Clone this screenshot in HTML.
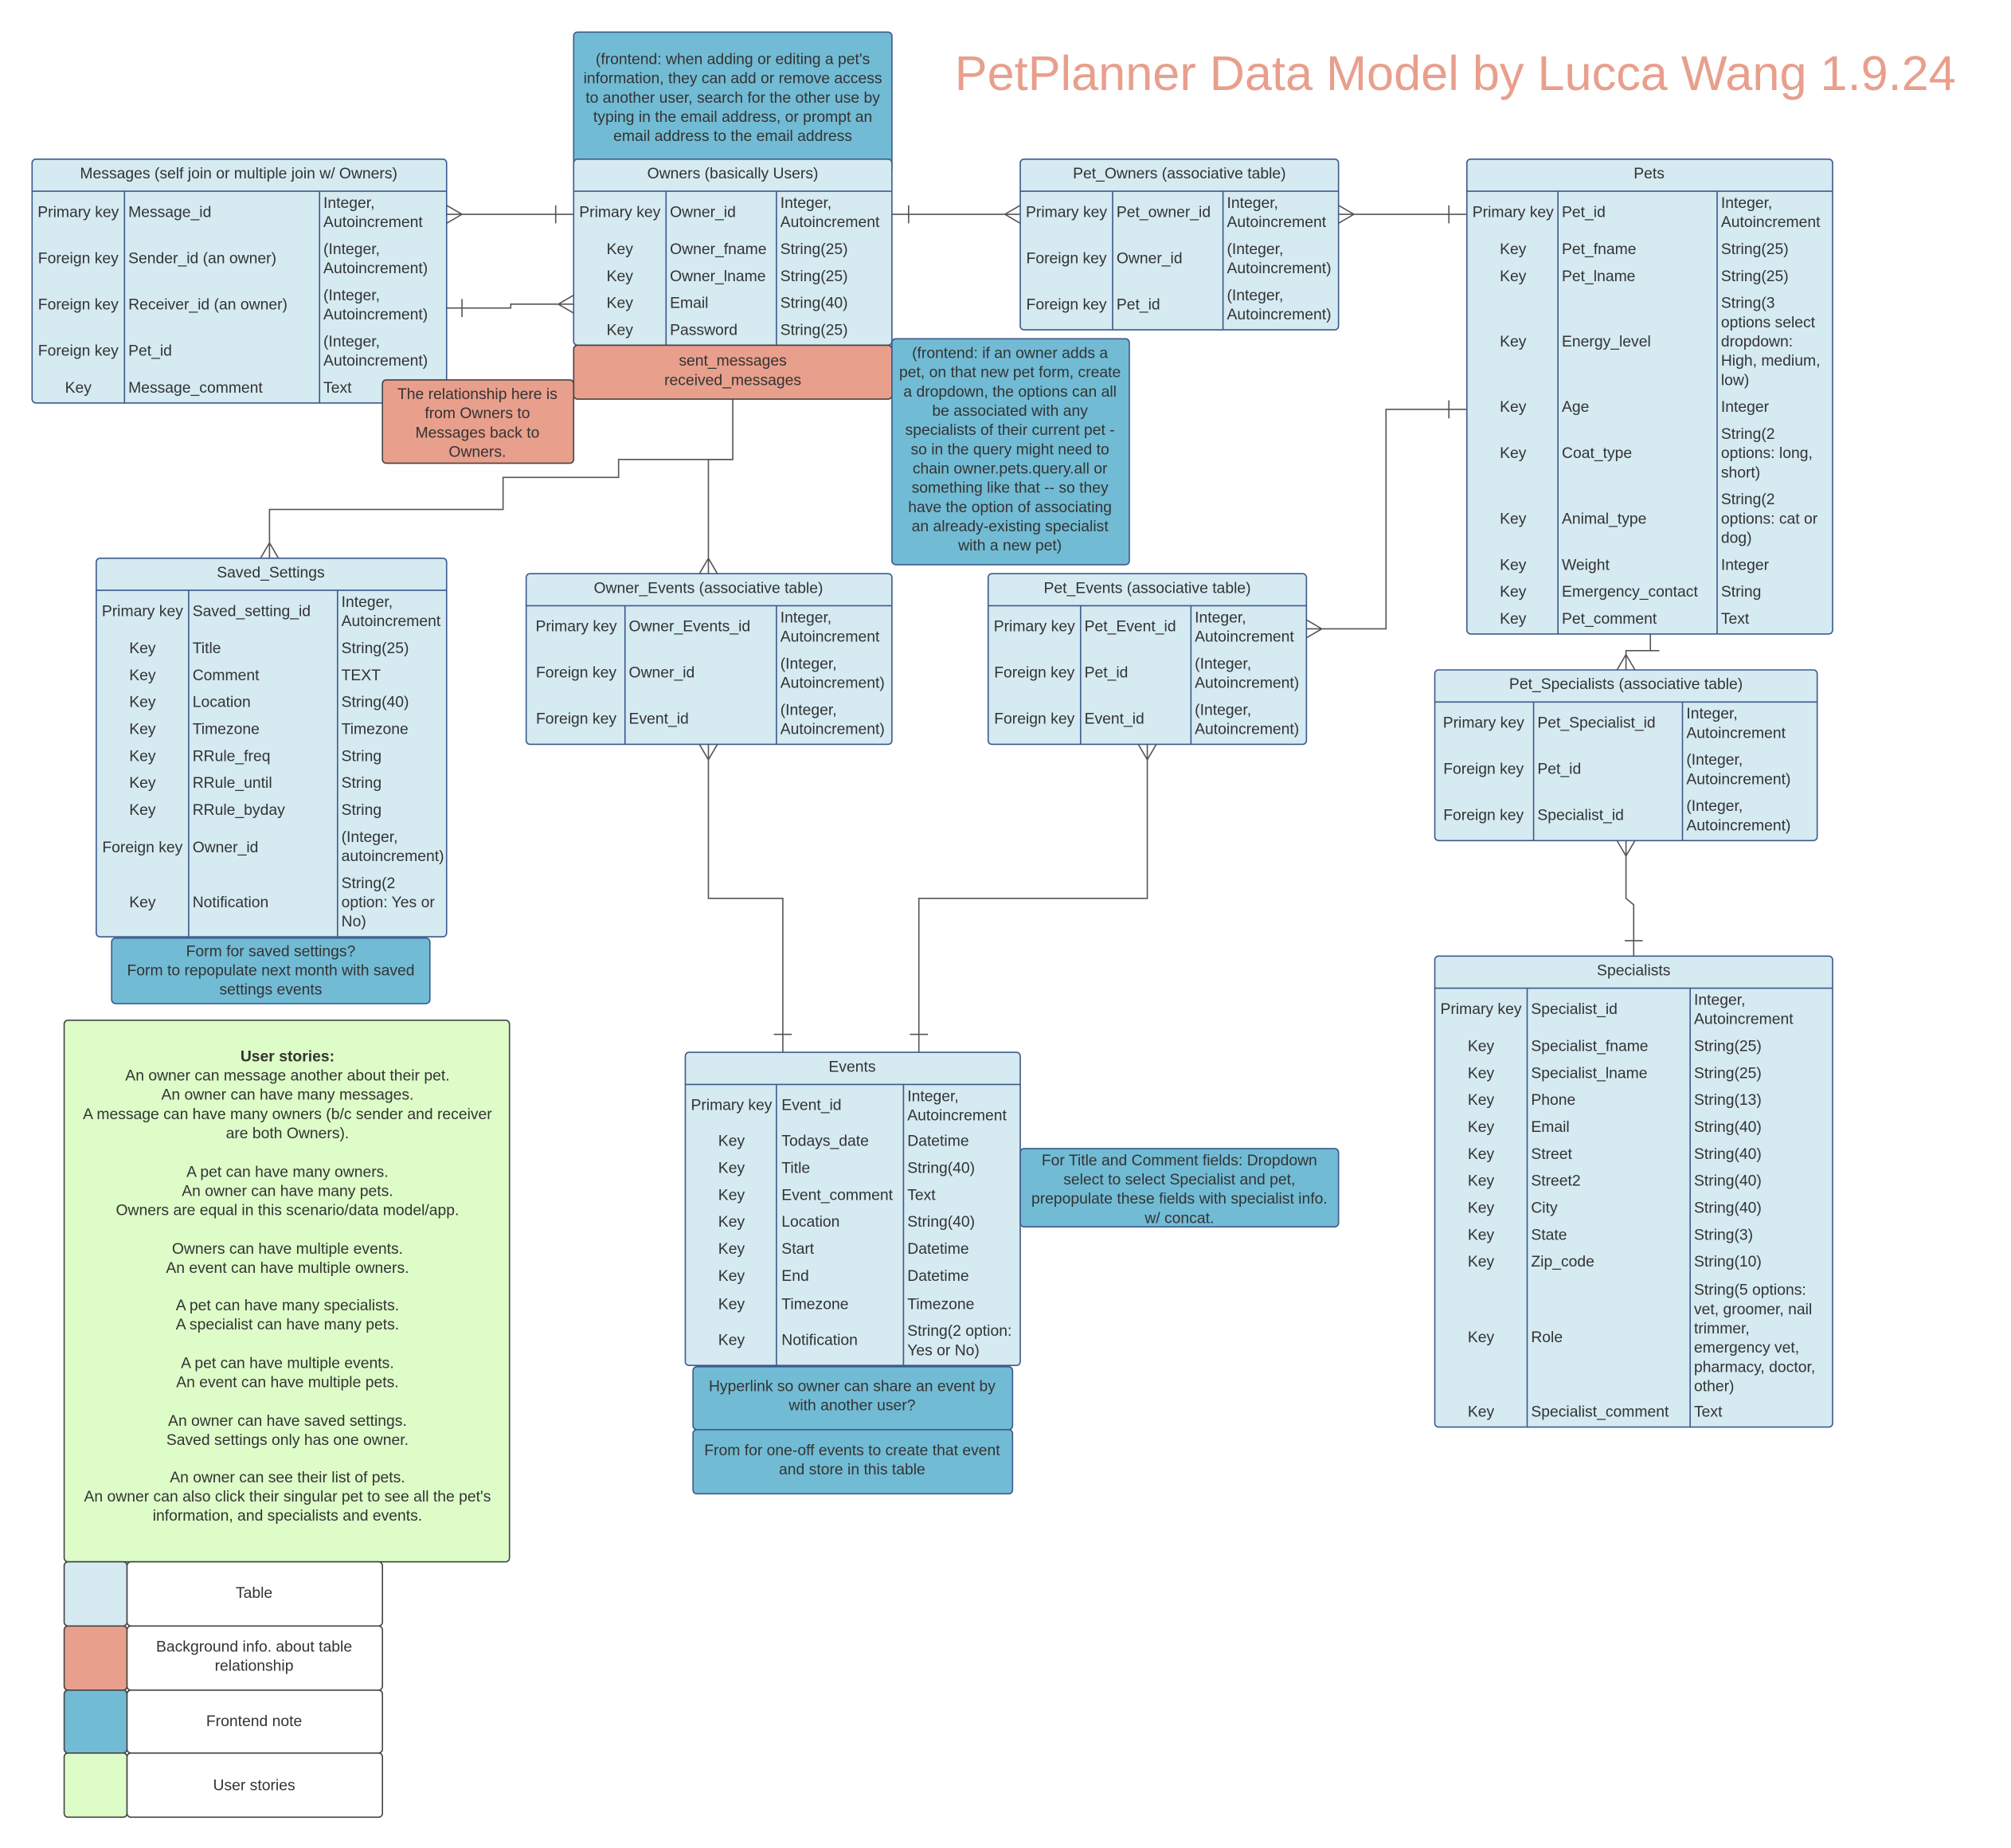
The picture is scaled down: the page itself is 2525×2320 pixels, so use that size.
<!DOCTYPE html>
<html><head><meta charset="utf-8"><style>
html,body{margin:0;padding:0;background:#fff;}
svg{display:block;}
text{font-family:"Liberation Sans",Arial,sans-serif;font-size:12px;fill:#333;}
.c{text-anchor:middle;}
.t{fill:#d5eaf1;stroke:#3d5a8c;stroke-width:1;}
.g{stroke:#3d5a8c;stroke-width:1;}
.r{fill:#e89f8c;stroke:#444;stroke-width:1;}
.f{fill:#72bbd4;stroke:#3d5a8c;stroke-width:1;}
.l{fill:none;stroke:#555;stroke-width:1;}
</style></head><body>
<svg width="2525" height="2320" viewBox="0 0 1567 1440" preserveAspectRatio="none" xmlns="http://www.w3.org/2000/svg">
<rect width="1567" height="1440" fill="#fff"/>
<text x="1134" y="70" class="c" style="font-size:38px;fill:#e89f8c">PetPlanner Data Model by Lucca Wang 1.9.24</text>

<!-- connectors -->
<g class="l">
<path d="M348 167H447M348 160L360 167L348 174M433 160V174"/>
<path d="M348 240H398V237H447M360 233V247M447 230L435 237L447 244"/>
<path d="M695 167H795M708 160V174M795 160L783 167L795 174"/>
<path d="M1043 167H1143M1043 160L1055 167L1043 174M1129 160V174"/>
<path d="M571 311V358H482V372H392V397H210V435M203 435L210 423L217 435"/>
<path d="M571 358H552V447M545 447L552 435L559 447"/>
<path d="M1018 490H1080V319H1143M1018 483L1030 490L1018 497M1129 312V326"/>
<path d="M1286 494V507H1267V522M1260 522L1267 510L1274 522M1279 507H1293"/>
<path d="M1267 655V700L1273 705V745M1260 655L1267 667L1274 655M1266 733H1280"/>
<path d="M552 580V700H610V820M545 580L552 592L559 580M603 806H617"/>
<path d="M894 580V700H716V820M887 580L894 592L901 580M709 806H723"/>
</g>

<!-- Top frontend note -->
<rect class="f" x="447" y="25" width="248" height="110" rx="3"/>
<text class="c" x="571" y="50">(frontend: when adding or editing a pet's</text>
<text class="c" x="571" y="65">information, they can add or remove access</text>
<text class="c" x="571" y="80">to another user, search for the other use by</text>
<text class="c" x="571" y="95">typing in the email address, or prompt an</text>
<text class="c" x="571" y="110">email address to the email address</text>

<!-- Messages -->
<rect class="t" x="25" y="124" width="323" height="190" rx="3"/>
<path class="g" d="M25 149H348M97 149V314M249 149V314"/>
<text class="c" x="186" y="139">Messages (self join or multiple join w/ Owners)</text>
<text class="c" x="61" y="169">Primary key</text><text x="100" y="169">Message_id</text><text x="252" y="162">Integer,</text><text x="252" y="177">Autoincrement</text>
<text class="c" x="61" y="205">Foreign key</text><text x="100" y="205">Sender_id (an owner)</text><text x="252" y="198">(Integer,</text><text x="252" y="213">Autoincrement)</text>
<text class="c" x="61" y="241">Foreign key</text><text x="100" y="241">Receiver_id (an owner)</text><text x="252" y="234">(Integer,</text><text x="252" y="249">Autoincrement)</text>
<text class="c" x="61" y="277">Foreign key</text><text x="100" y="277">Pet_id</text><text x="252" y="270">(Integer,</text><text x="252" y="285">Autoincrement)</text>
<text class="c" x="61" y="306">Key</text><text x="100" y="306">Message_comment</text><text x="252" y="306">Text</text>

<!-- Owners -->
<rect class="t" x="447" y="124" width="248" height="145" rx="3"/>
<path class="g" d="M447 149H695M519 149V269M605 149V269"/>
<text class="c" x="571" y="139">Owners (basically Users)</text>
<text class="c" x="483" y="169">Primary key</text><text x="522" y="169">Owner_id</text><text x="608" y="162">Integer,</text><text x="608" y="177">Autoincrement</text>
<text class="c" x="483" y="198">Key</text><text x="522" y="198">Owner_fname</text><text x="608" y="198">String(25)</text>
<text class="c" x="483" y="219">Key</text><text x="522" y="219">Owner_lname</text><text x="608" y="219">String(25)</text>
<text class="c" x="483" y="240">Key</text><text x="522" y="240">Email</text><text x="608" y="240">String(40)</text>
<text class="c" x="483" y="261">Key</text><text x="522" y="261">Password</text><text x="608" y="261">String(25)</text>
<rect class="r" x="447" y="269" width="248" height="42" rx="3"/>
<text class="c" x="571" y="285">sent_messages</text>
<text class="c" x="571" y="300">received_messages</text>

<!-- relationship note -->
<rect class="r" x="298" y="296" width="149" height="65" rx="3"/>
<text class="c" x="372" y="311">The relationship here is</text>
<text class="c" x="372" y="326">from Owners to</text>
<text class="c" x="372" y="341">Messages back to</text>
<text class="c" x="372" y="356">Owners.</text>

<!-- Pet_Owners -->
<rect class="t" x="795" y="124" width="248" height="133" rx="3"/>
<path class="g" d="M795 149H1043M867 149V257M953 149V257"/>
<text class="c" x="919" y="139">Pet_Owners (associative table)</text>
<text class="c" x="831" y="169">Primary key</text><text x="870" y="169">Pet_owner_id</text><text x="956" y="162">Integer,</text><text x="956" y="177">Autoincrement</text>
<text class="c" x="831" y="205">Foreign key</text><text x="870" y="205">Owner_id</text><text x="956" y="198">(Integer,</text><text x="956" y="213">Autoincrement)</text>
<text class="c" x="831" y="241">Foreign key</text><text x="870" y="241">Pet_id</text><text x="956" y="234">(Integer,</text><text x="956" y="249">Autoincrement)</text>

<!-- frontend note 2 -->
<rect class="f" x="695" y="264" width="185" height="176" rx="3"/>
<text class="c" x="787" y="279">(frontend: if an owner adds a</text>
<text class="c" x="787" y="294">pet, on that new pet form, create</text>
<text class="c" x="787" y="309">a dropdown, the options can all</text>
<text class="c" x="787" y="324">be associated with any</text>
<text class="c" x="787" y="339">specialists of their current pet -</text>
<text class="c" x="787" y="354">so in the query might need to</text>
<text class="c" x="787" y="369">chain owner.pets.query.all or</text>
<text class="c" x="787" y="384">something like that -- so they</text>
<text class="c" x="787" y="399">have the option of associating</text>
<text class="c" x="787" y="414">an already-existing specialist</text>
<text class="c" x="787" y="429">with a new pet)</text>

<!-- Pets -->
<rect class="t" x="1143" y="124" width="285" height="370" rx="3"/>
<path class="g" d="M1143 149H1428M1214 149V494M1338 149V494"/>
<text class="c" x="1285" y="139">Pets</text>
<text class="c" x="1179" y="169">Primary key</text><text x="1217" y="169">Pet_id</text><text x="1341" y="162">Integer,</text><text x="1341" y="177">Autoincrement</text>
<text class="c" x="1179" y="198">Key</text><text x="1217" y="198">Pet_fname</text><text x="1341" y="198">String(25)</text>
<text class="c" x="1179" y="219">Key</text><text x="1217" y="219">Pet_lname</text><text x="1341" y="219">String(25)</text>
<text class="c" x="1179" y="270">Key</text><text x="1217" y="270">Energy_level</text><text x="1341" y="240">String(3</text><text x="1341" y="255">options select</text><text x="1341" y="270">dropdown:</text><text x="1341" y="285">High, medium,</text><text x="1341" y="300">low)</text>
<text class="c" x="1179" y="321">Key</text><text x="1217" y="321">Age</text><text x="1341" y="321">Integer</text>
<text class="c" x="1179" y="357">Key</text><text x="1217" y="357">Coat_type</text><text x="1341" y="342">String(2</text><text x="1341" y="357">options: long,</text><text x="1341" y="372">short)</text>
<text class="c" x="1179" y="408">Key</text><text x="1217" y="408">Animal_type</text><text x="1341" y="393">String(2</text><text x="1341" y="408">options: cat or</text><text x="1341" y="423">dog)</text>
<text class="c" x="1179" y="444">Key</text><text x="1217" y="444">Weight</text><text x="1341" y="444">Integer</text>
<text class="c" x="1179" y="465">Key</text><text x="1217" y="465">Emergency_contact</text><text x="1341" y="465">String</text>
<text class="c" x="1179" y="486">Key</text><text x="1217" y="486">Pet_comment</text><text x="1341" y="486">Text</text>

<!-- Saved_Settings -->
<rect class="t" x="75" y="435" width="273" height="295" rx="3"/>
<path class="g" d="M75 460H348M147 460V730M263 460V730"/>
<text class="c" x="211" y="450">Saved_Settings</text>
<text class="c" x="111" y="480">Primary key</text><text x="150" y="480">Saved_setting_id</text><text x="266" y="473">Integer,</text><text x="266" y="488">Autoincrement</text>
<text class="c" x="111" y="509">Key</text><text x="150" y="509">Title</text><text x="266" y="509">String(25)</text>
<text class="c" x="111" y="530">Key</text><text x="150" y="530">Comment</text><text x="266" y="530">TEXT</text>
<text class="c" x="111" y="551">Key</text><text x="150" y="551">Location</text><text x="266" y="551">String(40)</text>
<text class="c" x="111" y="572">Key</text><text x="150" y="572">Timezone</text><text x="266" y="572">Timezone</text>
<text class="c" x="111" y="593">Key</text><text x="150" y="593">RRule_freq</text><text x="266" y="593">String</text>
<text class="c" x="111" y="614">Key</text><text x="150" y="614">RRule_until</text><text x="266" y="614">String</text>
<text class="c" x="111" y="635">Key</text><text x="150" y="635">RRule_byday</text><text x="266" y="635">String</text>
<text class="c" x="111" y="664">Foreign key</text><text x="150" y="664">Owner_id</text><text x="266" y="656">(Integer,</text><text x="266" y="671">autoincrement)</text>
<text class="c" x="111" y="707">Key</text><text x="150" y="707">Notification</text><text x="266" y="692">String(2</text><text x="266" y="707">option: Yes or</text><text x="266" y="722">No)</text>
<rect class="f" x="87" y="731" width="248" height="51" rx="3"/>
<text class="c" x="211" y="745">Form for saved settings?</text>
<text class="c" x="211" y="760">Form to repopulate next month with saved</text>
<text class="c" x="211" y="775">settings events</text>

<!-- Owner_Events -->
<rect class="t" x="410" y="447" width="285" height="133" rx="3"/>
<path class="g" d="M410 472H695M487 472V580M605 472V580"/>
<text class="c" x="552" y="462">Owner_Events (associative table)</text>
<text class="c" x="449" y="492">Primary key</text><text x="490" y="492">Owner_Events_id</text><text x="608" y="485">Integer,</text><text x="608" y="500">Autoincrement</text>
<text class="c" x="449" y="528">Foreign key</text><text x="490" y="528">Owner_id</text><text x="608" y="521">(Integer,</text><text x="608" y="536">Autoincrement)</text>
<text class="c" x="449" y="564">Foreign key</text><text x="490" y="564">Event_id</text><text x="608" y="557">(Integer,</text><text x="608" y="572">Autoincrement)</text>

<!-- Pet_Events -->
<rect class="t" x="770" y="447" width="248" height="133" rx="3"/>
<path class="g" d="M770 472H1018M842 472V580M928 472V580"/>
<text class="c" x="894" y="462">Pet_Events (associative table)</text>
<text class="c" x="806" y="492">Primary key</text><text x="845" y="492">Pet_Event_id</text><text x="931" y="485">Integer,</text><text x="931" y="500">Autoincrement</text>
<text class="c" x="806" y="528">Foreign key</text><text x="845" y="528">Pet_id</text><text x="931" y="521">(Integer,</text><text x="931" y="536">Autoincrement)</text>
<text class="c" x="806" y="564">Foreign key</text><text x="845" y="564">Event_id</text><text x="931" y="557">(Integer,</text><text x="931" y="572">Autoincrement)</text>

<!-- Pet_Specialists -->
<rect class="t" x="1118" y="522" width="298" height="133" rx="3"/>
<path class="g" d="M1118 547H1416M1195 547V655M1311 547V655"/>
<text class="c" x="1267" y="537">Pet_Specialists (associative table)</text>
<text class="c" x="1156" y="567">Primary key</text><text x="1198" y="567">Pet_Specialist_id</text><text x="1314" y="560">Integer,</text><text x="1314" y="575">Autoincrement</text>
<text class="c" x="1156" y="603">Foreign key</text><text x="1198" y="603">Pet_id</text><text x="1314" y="596">(Integer,</text><text x="1314" y="611">Autoincrement)</text>
<text class="c" x="1156" y="639">Foreign key</text><text x="1198" y="639">Specialist_id</text><text x="1314" y="632">(Integer,</text><text x="1314" y="647">Autoincrement)</text>

<!-- Specialists -->
<rect class="t" x="1118" y="745" width="310" height="367" rx="3"/>
<path class="g" d="M1118 770H1428M1190 770V1112M1317 770V1112"/>
<text class="c" x="1273" y="760">Specialists</text>
<text class="c" x="1154" y="790">Primary key</text><text x="1193" y="790">Specialist_id</text><text x="1320" y="783">Integer,</text><text x="1320" y="798">Autoincrement</text>
<text class="c" x="1154" y="819">Key</text><text x="1193" y="819">Specialist_fname</text><text x="1320" y="819">String(25)</text>
<text class="c" x="1154" y="840">Key</text><text x="1193" y="840">Specialist_lname</text><text x="1320" y="840">String(25)</text>
<text class="c" x="1154" y="861">Key</text><text x="1193" y="861">Phone</text><text x="1320" y="861">String(13)</text>
<text class="c" x="1154" y="882">Key</text><text x="1193" y="882">Email</text><text x="1320" y="882">String(40)</text>
<text class="c" x="1154" y="903">Key</text><text x="1193" y="903">Street</text><text x="1320" y="903">String(40)</text>
<text class="c" x="1154" y="924">Key</text><text x="1193" y="924">Street2</text><text x="1320" y="924">String(40)</text>
<text class="c" x="1154" y="945">Key</text><text x="1193" y="945">City</text><text x="1320" y="945">String(40)</text>
<text class="c" x="1154" y="966">Key</text><text x="1193" y="966">State</text><text x="1320" y="966">String(3)</text>
<text class="c" x="1154" y="987">Key</text><text x="1193" y="987">Zip_code</text><text x="1320" y="987">String(10)</text>
<text class="c" x="1154" y="1046">Key</text><text x="1193" y="1046">Role</text><text x="1320" y="1009">String(5 options:</text><text x="1320" y="1024">vet, groomer, nail</text><text x="1320" y="1039">trimmer,</text><text x="1320" y="1054">emergency vet,</text><text x="1320" y="1069">pharmacy, doctor,</text><text x="1320" y="1084">other)</text>
<text class="c" x="1154" y="1104">Key</text><text x="1193" y="1104">Specialist_comment</text><text x="1320" y="1104">Text</text>

<!-- Events -->
<rect class="t" x="534" y="820" width="261" height="244" rx="3"/>
<path class="g" d="M534 845H795M605 845V1064M704 845V1064"/>
<text class="c" x="664" y="835">Events</text>
<text class="c" x="570" y="865">Primary key</text><text x="609" y="865">Event_id</text><text x="707" y="858">Integer,</text><text x="707" y="873">Autoincrement</text>
<text class="c" x="570" y="893">Key</text><text x="609" y="893">Todays_date</text><text x="707" y="893">Datetime</text>
<text class="c" x="570" y="914">Key</text><text x="609" y="914">Title</text><text x="707" y="914">String(40)</text>
<text class="c" x="570" y="935">Key</text><text x="609" y="935">Event_comment</text><text x="707" y="935">Text</text>
<text class="c" x="570" y="956">Key</text><text x="609" y="956">Location</text><text x="707" y="956">String(40)</text>
<text class="c" x="570" y="977">Key</text><text x="609" y="977">Start</text><text x="707" y="977">Datetime</text>
<text class="c" x="570" y="998">Key</text><text x="609" y="998">End</text><text x="707" y="998">Datetime</text>
<text class="c" x="570" y="1020">Key</text><text x="609" y="1020">Timezone</text><text x="707" y="1020">Timezone</text>
<text class="c" x="570" y="1048">Key</text><text x="609" y="1048">Notification</text><text x="707" y="1041">String(2 option:</text><text x="707" y="1056">Yes or No)</text>
<rect class="f" x="540" y="1065" width="249" height="49" rx="3"/>
<text class="c" x="664" y="1084">Hyperlink so owner can share an event by</text>
<text class="c" x="664" y="1099">with another user?</text>
<rect class="f" x="540" y="1114" width="249" height="50" rx="3"/>
<text class="c" x="664" y="1134">From for one-off events to create that event</text>
<text class="c" x="664" y="1149">and store in this table</text>
<rect class="f" x="795" y="895" width="248" height="61" rx="3"/>
<text class="c" x="919" y="908">For Title and Comment fields: Dropdown</text>
<text class="c" x="919" y="923">select to select Specialist and pet,</text>
<text class="c" x="919" y="938">prepopulate these fields with specialist info.</text>
<text class="c" x="919" y="953">w/ concat.</text>

<!-- User stories -->
<rect x="50" y="795" width="347" height="422" rx="3" fill="#ddfcc8" stroke="#444"/>
<text class="c" x="224" y="827" style="font-weight:bold">User stories:</text>
<text class="c" x="224" y="842">An owner can message another about their pet.</text>
<text class="c" x="224" y="857">An owner can have many messages.</text>
<text class="c" x="224" y="872">A message can have many owners (b/c sender and receiver</text>
<text class="c" x="224" y="887">are both Owners).</text>
<text class="c" x="224" y="917">A pet can have many owners.</text>
<text class="c" x="224" y="932">An owner can have many pets.</text>
<text class="c" x="224" y="947">Owners are equal in this scenario/data model/app.</text>
<text class="c" x="224" y="977">Owners can have multiple events.</text>
<text class="c" x="224" y="992">An event can have multiple owners.</text>
<text class="c" x="224" y="1021">A pet can have many specialists.</text>
<text class="c" x="224" y="1036">A specialist can have many pets.</text>
<text class="c" x="224" y="1066">A pet can have multiple events.</text>
<text class="c" x="224" y="1081">An event can have multiple pets.</text>
<text class="c" x="224" y="1111">An owner can have saved settings.</text>
<text class="c" x="224" y="1126">Saved settings only has one owner.</text>
<text class="c" x="224" y="1155">An owner can see their list of pets.</text>
<text class="c" x="224" y="1170">An owner can also click their singular pet to see all the pet's</text>
<text class="c" x="224" y="1185">information, and specialists and events.</text>

<!-- Legend -->
<rect x="50" y="1217" width="49" height="50" rx="3" fill="#d5eaf1" stroke="#444"/>
<rect x="99" y="1217" width="199" height="50" rx="3" fill="#fff" stroke="#444"/>
<text class="c" x="198" y="1245">Table</text>
<rect x="50" y="1267" width="49" height="50" rx="3" fill="#e89f8c" stroke="#444"/>
<rect x="99" y="1267" width="199" height="50" rx="3" fill="#fff" stroke="#444"/>
<text class="c" x="198" y="1287">Background info. about table</text>
<text class="c" x="198" y="1302">relationship</text>
<rect x="50" y="1317" width="49" height="49" rx="3" fill="#72bbd4" stroke="#444"/>
<rect x="99" y="1317" width="199" height="49" rx="3" fill="#fff" stroke="#444"/>
<text class="c" x="198" y="1345">Frontend note</text>
<rect x="50" y="1366" width="49" height="50" rx="3" fill="#ddfcc8" stroke="#444"/>
<rect x="99" y="1366" width="199" height="50" rx="3" fill="#fff" stroke="#444"/>
<text class="c" x="198" y="1395">User stories</text>
</svg>
</body></html>
